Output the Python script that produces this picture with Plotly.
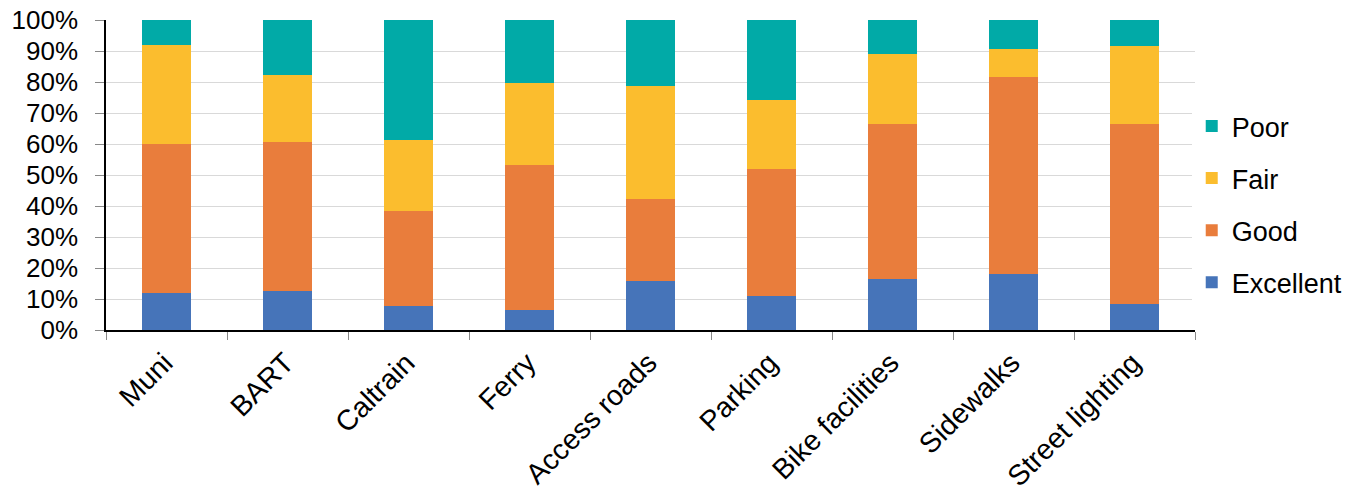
import plotly.graph_objects as go

categories = ["Muni", "BART", "Caltrain", "Ferry", "Access roads", "Parking",
              "Bike facilities", "Sidewalks", "Street lighting"]
excellent = [12.0, 12.7, 7.7, 6.6, 15.7, 11.1, 16.5, 18.0, 8.3]
good = [48.0, 47.9, 30.8, 46.5, 26.4, 40.7, 50.1, 63.7, 58.2]
fair = [32.0, 21.8, 22.8, 26.7, 36.7, 22.3, 22.3, 9.1, 25.0]
poor = [8.0, 17.6, 38.7, 20.2, 21.2, 25.9, 11.1, 9.2, 8.5]

series = [
    ("Excellent", excellent, "#4674B9", 4),
    ("Good", good, "#E97D3C", 3),
    ("Fair", fair, "#FBBD2E", 2),
    ("Poor", poor, "#01AAA7", 1),
]

y_ticks = list(range(0, 101, 10))
y_tick_labels = [f"{v}%" for v in y_ticks]

fig = go.Figure()
for name, vals, color, rank in series:
    fig.add_trace(go.Bar(
        x=categories, y=vals, name=name, legendgroup=name, legendrank=rank,
        marker=dict(color=color, line=dict(width=0)),
    ))

font_family = "Liberation Sans, Arial, sans-serif"
fig.update_layout(
    barmode="stack",
    bargap=0.6,
    width=1359, height=494,
    margin=dict(l=106, r=164, t=20, b=164, autoexpand=False),
    paper_bgcolor="white", plot_bgcolor="white",
    font=dict(family=font_family, size=26, color="black"),
    legend=dict(
        x=0.997, xanchor="left", y=0.405, yanchor="middle",
        traceorder="grouped", tracegroupgap=14,
        font=dict(size=27), itemwidth=30,
    ),
    showlegend=True,
)
fig.update_yaxes(
    range=[0, 100], tickmode="array", tickvals=y_ticks, ticktext=y_tick_labels,
    showgrid=True, gridcolor="#d9d9d9", gridwidth=1,
    showline=True, linecolor="black", linewidth=1.5,
    ticks="outside", ticklen=9, tickcolor="#888888",
    tickfont=dict(size=26), zeroline=False, automargin=False,
    ticklabelstandoff=12,
)
fig.update_xaxes(
    tickangle=-45, tickson="boundaries",
    showline=True, linecolor="black", linewidth=1.5,
    ticks="outside", ticklen=8, tickcolor="#888888",
    tickfont=dict(size=28.5), automargin=False,
    ticklabelstandoff=3, ticklabelshift=-2,
)

fig.write_html("out.html")
